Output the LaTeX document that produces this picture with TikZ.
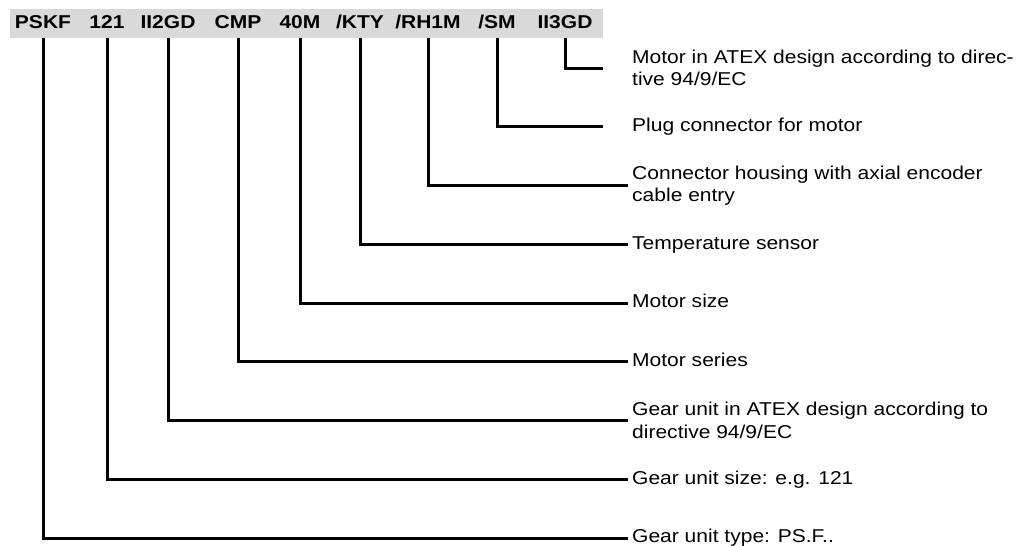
\documentclass[tikz,border=0pt]{standalone}
\usepackage{fontspec}
\setmainfont{Liberation Sans}[FakeStretch=1.13]
\usepackage{tikz}
\definecolor{bandGray}{RGB}{217, 217, 217}

\begin{document}
\begin{tikzpicture}[x=1pt, y=-1pt,
    font=\fontsize{18.6}{22.5}\selectfont,
    code/.style={font=\fontsize{18.6}{22.5}\selectfont\bfseries, inner sep=0pt, text height=13.4pt, text depth=0pt},
    lbl/.style={anchor=west, inner ysep=0pt, inner xsep=4pt, text height=13.5pt, text depth=4pt},
    lbltwo/.style={anchor=west, inner ysep=0pt, inner xsep=4pt, align=left},
    conn/.style={line width=3pt}]
    \useasboundingbox (0,0) rectangle (1029,546);
    \node[fill=bandGray, inner sep=0pt, minimum width=593pt, minimum height=29pt, anchor=north west] (band) at (10,9) {};
    \node[code] (pskf) at (43,21.7) {PSKF};
    \node[code] (size121) at (107,21.7) {121};
    \node[code] (iitwo) at (168,21.7) {II2GD};
    \node[code] (cmp) at (238,21.7) {CMP};
    \node[code] (size40) at (300,21.7) {40M};
    \node[code] (kty) at (360,21.7) {/KTY};
    \node[code] (rh) at (428,21.7) {/RH1M};
    \node[code] (sm) at (497,21.7) {/SM};
    \node[code] (iithree) at (565,21.7) {II3GD};
    \node[lbltwo] (lmotoratex) at (628,68) {Motor in ATEX design according to direc-\\tive 94/9/EC};
    \node[lbl] (lplug) at (628,126.75) {Plug connector for motor};
    \node[lbltwo] (lhousing) at (628,185.5) {Connector housing with axial encoder\\cable entry};
    \node[lbl] (lsensor) at (628,244.25) {Temperature sensor};
    \node[lbl] (lmotorsize) at (628,303) {Motor size};
    \node[lbl] (lseries) at (628,361.75) {Motor series};
    \node[lbltwo] (lgearatex) at (628,420.5) {Gear unit in ATEX design according to\\directive 94/9/EC};
    \node[lbl] (lgearsize) at (628,479.25) {Gear unit size: e.g. 121};
    \node[lbl] (ltype) at (628,538) {Gear unit type: PS.F..};
    \draw[conn] (iithree |- band.south) |- (band.east |- lmotoratex.west);
    \draw[conn] (sm |- band.south) |- (band.east |- lplug.west);
    \draw[conn] (rh |- band.south) |- (lhousing.west);
    \draw[conn] (kty |- band.south) |- (lsensor.west);
    \draw[conn] (size40 |- band.south) |- (lmotorsize.west);
    \draw[conn] (cmp |- band.south) |- (lseries.west);
    \draw[conn] (iitwo |- band.south) |- (lgearatex.west);
    \draw[conn] (size121 |- band.south) |- (lgearsize.west);
    \draw[conn] (pskf |- band.south) |- (ltype.west);
\end{tikzpicture}
\end{document}
